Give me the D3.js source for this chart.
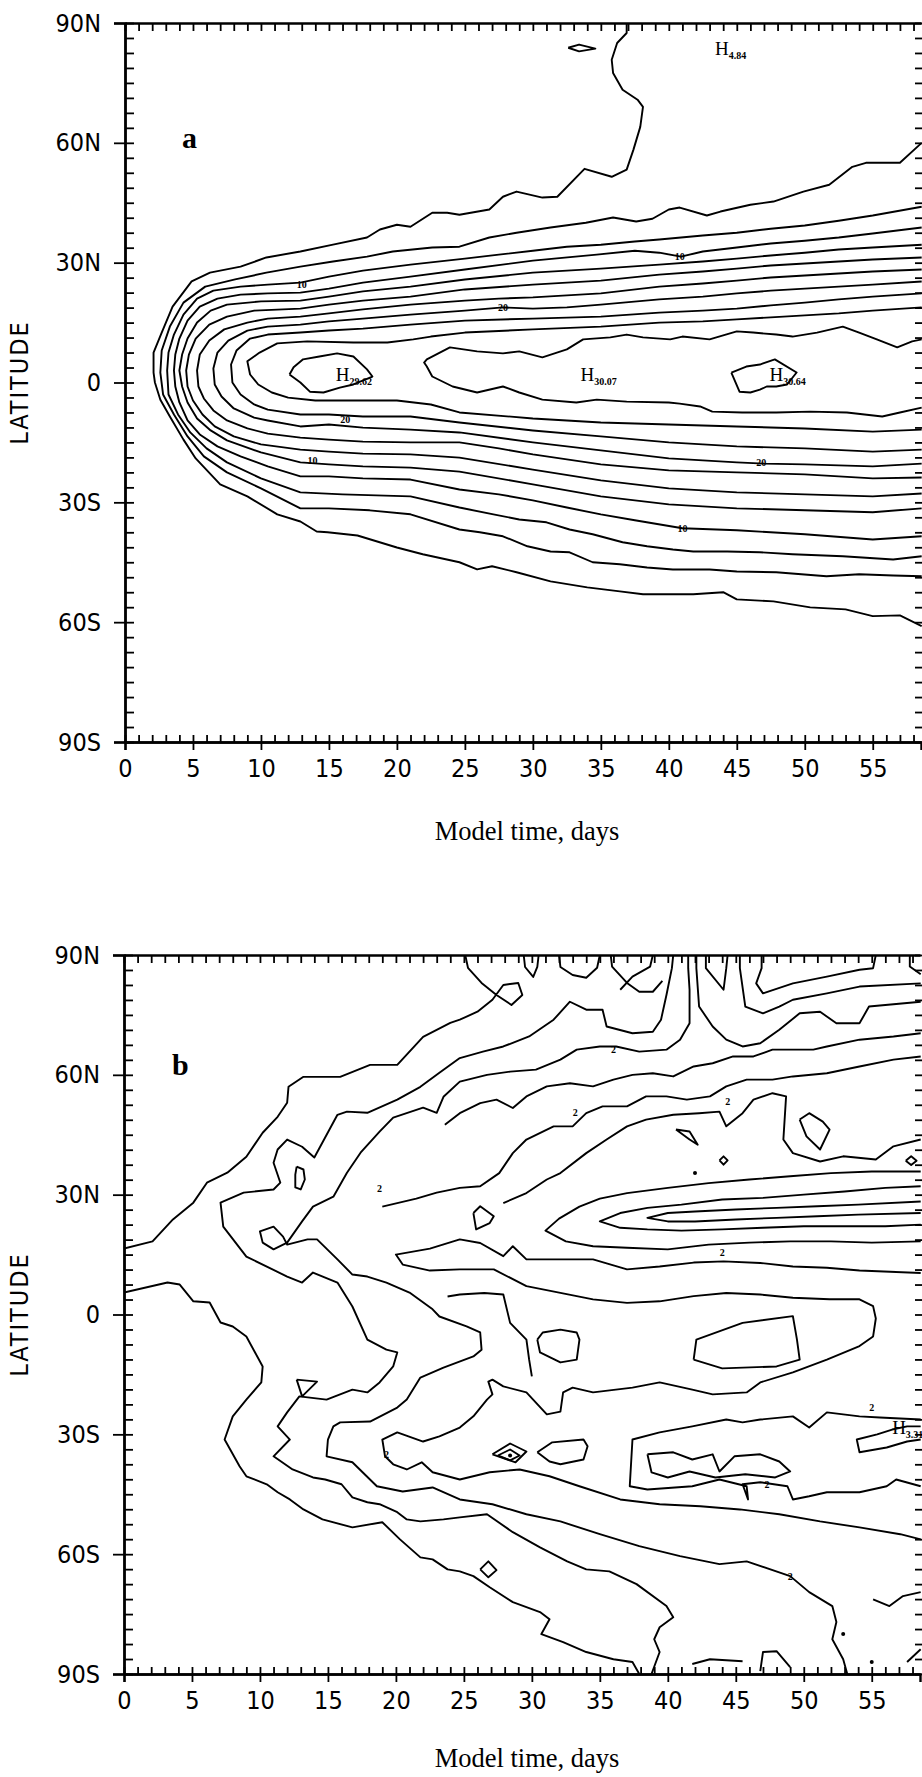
<!DOCTYPE html>
<html>
<head>
<meta charset="utf-8">
<script src="https://cdn.jsdelivr.net/npm/d3@7"></script>
<style>
  body { margin: 0; background: #fff; }
  svg text { fill: #000; }
</style>
</head>
<body>
<svg id="chart" width="922" height="1777"></svg>
<script>
// ---- axis ticks ----
const dayMajor = [0, 5, 10, 15, 20, 25, 30, 35, 40, 45, 50, 55];
const latMajor = [90, 60, 30, 0, -30, -60, -90];
const latLabels = ["90N", "60N", "30N", "0", "30S", "60S", "90S"];

// ---- panel a: contour lines as [day, lat] (north branch from nose outward, south branch from nose outward) ----
const a1N = [[2.1,2.5],[2.1,7.5],[2.7,12.5],[3.5,19],[4.9,25.3],[6.25,27.5],[8.5,29],[10.4,31.3],[12.9,32.8],[15.3,34.5],[17.8,36.3],[18.75,38.3],[20,39.5],[21,39],[22.6,42.5],[23.7,42.5],[24.6,42],[26.8,43.3],[27.8,46.5],[28.8,47.8],[30.7,46.3],[31.8,46.5],[33.8,53.5],[35.8,51.5],[36.9,53.3],[37.4,58.3],[37.9,64],[38.1,69],[37.7,70.8],[36.6,73.3],[35.9,77.5],[35.8,80.8],[36.2,85],[36.9,87.5],[36.9,90]];
const a1S = [[2.2,0],[2.6,-4.3],[3.3,-8.5],[4.3,-14.3],[5.2,-19],[7,-25.5],[9,-28.5],[11.2,-33],[12.9,-34.8],[14.1,-37.3],[14.9,-37.5],[17.1,-38.3],[20,-41.3],[21.9,-43],[24.6,-45],[25.9,-46.8],[27,-46],[28.8,-47.5],[31.3,-49.8],[34,-51.3],[36.4,-52.3],[38.1,-53],[41.8,-53],[44,-52.5],[45,-54.3],[47.7,-54.8],[50.4,-56.3],[53,-56.8],[55,-58.5],[57,-58.3],[58.6,-61]];
const a2N = [[2.6,2.5],[2.7,8],[3.3,14],[4.3,20],[5.9,24],[8.1,25.8],[10.4,27.5],[12.9,29],[15.3,30.3],[17.8,31.5],[19.7,32.8],[22.6,33.8],[24.6,34],[26.8,36.3],[28.8,37.5],[31.3,38.8],[33.9,40],[35.9,41.3],[37.6,40.3],[38.8,41],[40,43.3],[40.8,43.8],[42.8,41.8],[43.8,42.8],[46,44.5],[47.7,45.3],[49.9,47.8],[51.8,49.5],[53.5,54],[54.5,55],[57,55],[58.6,60]];
const a2S = [[2.8,-3],[3.6,-8],[4.6,-13.5],[5.8,-18.5],[7.5,-22.5],[10,-26.5],[12.9,-31.5],[15,-31.5],[18,-32],[21,-33],[24.6,-36.8],[26.1,-37.5],[27.8,-38.5],[29.6,-41],[31.3,-42.3],[32.7,-42.5],[34.4,-45],[36.4,-45.5],[38.4,-46.3],[40.3,-46.8],[43,-46.8],[45,-47.3],[47.9,-47.5],[51.6,-48.5],[54,-48],[56.5,-48.3],[58.6,-48.5]];
const a3N = [[3.1,3],[3.2,7.5],[3.6,12],[4.3,17],[5.3,21],[6.5,23],[8.5,24],[10.5,24.5],[12.9,25],[15,26.5],[17.5,28],[21,29.5],[25,31],[27.5,32],[30,33],[32.5,34],[35,34.5],[37.5,35.3],[39.3,35.8],[42.5,36.8],[45,37.5],[47.5,38.5],[50,39.3],[52.5,40.5],[55,41.8],[58.6,44]];
const a3S = [[3.2,-3],[3.9,-8],[4.8,-12.5],[6,-16.5],[7.5,-20],[10,-24],[12.9,-27.5],[16,-28],[21,-28.5],[24.6,-31.3],[27.1,-33],[29,-34.3],[31,-35],[32.7,-36.8],[34.4,-38],[36.6,-40],[38.4,-41],[40.3,-41.8],[41.8,-42.3],[44.3,-42.3],[46.7,-42.5],[49.1,-43],[52.8,-43.5],[56.5,-44.3],[58.6,-43.5]];
const a4N = [[3.6,3],[3.7,7],[4.0,11],[4.6,15.5],[5.5,19],[6.8,21],[8.5,22],[10.5,22.3],[12.9,22.5],[15,23.5],[17.5,25],[21,26.5],[25,28.3],[30,30.5],[34.7,32],[37.5,33],[39.3,32.5],[40.9,31.5],[42.5,32.8],[45,33.8],[47.5,34.8],[50,35.5],[52.5,36.3],[55,37.3],[58.6,38.8]];
const a4S = [[3.7,-1],[4.0,-5],[4.6,-9.5],[5.5,-13],[6.8,-16],[8.5,-18.5],[10.5,-21],[12.9,-23.5],[15,-23.5],[17.5,-24],[21,-24.3],[24.6,-26.8],[27.5,-28],[30,-29.5],[32.5,-31.3],[35,-33],[37.5,-34.5],[41,-36.5],[45,-37],[50,-38],[55,-39.3],[58.6,-38.5]];
const a5N = [[4.0,3],[4.2,7],[4.6,11],[5.3,15],[6.3,18],[7.5,19.5],[10,20.3],[12.9,20.5],[15,21.5],[17.5,22.8],[21,24],[25,25.8],[30,27.5],[35,28.5],[39.3,29.5],[42.5,30.3],[45,31],[47.5,31.8],[50,32.5],[52.5,33.3],[55,33.8],[58.6,34.5]];
const a5S = [[4.2,-1],[4.6,-5],[5.3,-9],[6.3,-12],[7.5,-14.5],[10,-17.5],[12.9,-20],[15,-20.5],[17.5,-21],[21,-21.3],[24.6,-22.3],[30,-25.5],[35,-28.5],[40,-30.5],[45,-31.5],[50,-32],[55,-32.5],[58.6,-31.5]];
const a6N = [[4.5,3],[4.7,7],[5.2,11],[6.2,14.5],[7.5,16.5],[9.5,18],[12.9,18.5],[15,19.5],[17.5,20.5],[21,21.5],[25,23.3],[30,24.5],[35,25.5],[39.3,27],[42.5,27.8],[45,28.5],[47.5,29.3],[50,29.8],[52.5,30.3],[55,30.8],[58.6,31.3]];
const a6S = [[4.6,-1],[5.0,-4.5],[5.7,-8],[6.6,-11],[8,-13.5],[10,-15.5],[12.9,-16.8],[15,-17.3],[17.5,-17.8],[21,-18],[24.6,-18.8],[30,-21.8],[35,-24.5],[40,-26.5],[45,-27.5],[50,-28],[55,-28.5],[58.6,-27.8]];
const a7N = [[5.3,3],[5.5,7],[6.2,10.5],[7.3,13.3],[9,15],[10.5,16],[12.9,16.5],[15,17.3],[17.5,18.3],[21,19.5],[25,20.5],[27.5,21],[30,21.3],[35,22.3],[39.3,24],[42.5,24.8],[45,25.5],[47.5,26.3],[50,26.8],[52.5,27.3],[55,27.8],[58.6,28.3]];
const a7S = [[5.4,-1],[5.8,-4],[6.5,-7],[7.5,-9.5],[9,-11.5],[10.5,-12.8],[12.9,-13.8],[15,-14.3],[17.5,-14.8],[21,-15],[24.6,-15],[27.5,-16.5],[30,-18],[35,-20.5],[40,-22],[45,-22.5],[50,-23],[55,-24],[58.6,-23.8]];
const a8N = [[6.5,3.5],[6.8,7.5],[7.6,10.5],[9,13],[10.5,14],[12.9,14.5],[15,15.3],[17.5,16],[21,17],[25,18],[27.8,18.8],[30,18.5],[32.5,18.8],[35,19.5],[39.3,20.8],[42.5,21.5],[45,22.3],[47.5,23],[50,23.5],[52.5,24],[55,24.5],[58.6,25.3]];
const a8S = [[6.6,-0.5],[7.1,-3.5],[8,-6.5],[9.5,-8.8],[10.5,-9.5],[12.9,-11],[15,-10.5],[17.5,-11.3],[21,-11.8],[24.6,-12.5],[30,-15],[35,-17],[40,-19],[45,-20],[47,-20.3],[50,-20.5],[55,-21],[58.6,-20.3]];
const a9N = [[7.8,4.5],[8.2,8],[9.2,11],[10.5,12],[12.9,12.5],[15,13],[17.5,13.5],[21,14.5],[25,15.5],[30,16],[35,16.5],[39.3,17.5],[42.5,18],[45,18.5],[47.5,19.3],[50,20],[52.5,20.8],[55,21.5],[58.6,22.3]];
const a9S = [[7.9,0],[8.5,-3],[9.5,-5.5],[10.5,-6.8],[12.9,-8],[15,-8],[17.5,-8.5],[21,-8.5],[24.6,-10],[30,-12],[35,-13.5],[40,-15],[45,-16],[50,-16.5],[55,-17.3],[58.6,-16.8]];
const a10N = [[9.0,5.3],[9.9,7.5],[11.2,9.8],[13.4,10.3],[16.8,10],[19.3,10],[21.2,10.8],[22.5,11.5],[25,12.5],[30,13.3],[35,14],[39.3,15],[42.5,15.3],[45,15.8],[47.5,16.3],[50,16.8],[52.5,17.3],[55,18],[58.6,18.8]];
const a10S = [[9.2,2],[9.8,-0.5],[10.8,-2.5],[12,-3.8],[14,-4.5],[17,-4.5],[20,-4.5],[22.5,-5.5],[24.6,-7.5],[30,-9],[35,-10],[40,-10.5],[45,-11],[50,-11.5],[55,-12.3],[58.6,-11.8]];
const aEN = [[22.0,5],[22.2,5.8],[23.9,8.8],[25.9,7.8],[27.8,7.3],[29,7.8],[30.7,6.3],[32.5,8.3],[33.7,10.8],[35.7,11.3],[36.9,12],[38.1,11.3],[40.1,10.8],[41,11.5],[43,10.8],[45,12.8],[46.2,12.5],[47.9,12],[49.1,11.5],[50.9,12.5],[52.8,14],[54,12.5],[55.3,10.8],[56.8,8.8],[57.9,10.3],[58.6,10.8]];
const aES = [[22.2,4],[22.6,1.5],[24.1,-1],[25.9,-2.5],[27.8,-1],[29,-2.5],[30.7,-4.3],[33.2,-5],[34.7,-4.3],[36.9,-4.8],[40,-5],[40.8,-5.3],[42.3,-6],[43.2,-7.3],[45.4,-7.5],[47.9,-7.5],[50.4,-7.3],[53.1,-7.5],[55.7,-8.5],[57,-7.5],[58.6,-6.3]];
const aIsle1 = [[12.1,2],[12.4,3.8],[13.1,5.8],[14.3,6.5],[15.6,7.3],[16.8,6.5],[17.8,3.3],[18.2,1.5],[16.8,-0.5],[15.8,-1.3],[14.6,-2.5],[13.6,-2.3],[12.9,0],[12.1,2]];
const aIsle2 = [[44.6,2.5],[45.7,4],[46.7,4.5],[47.8,5.8],[49.4,2.5],[48.7,-0.5],[47.9,-1],[47.2,-1],[46.7,-1.8],[46,-2.5],[45.2,-2.3],[44.6,2.5]];
const aPoleLoop = [[32.6,83.8],[33.4,84.6],[34.6,83.6],[33.4,82.9],[32.6,83.8]];

// contour value labels and highs, panel a
const aLabelText = ["10", "20", "10", "20", "10", "20", "10"];
const aLabelPos = [[13.0,24.5],[27.8,18.8],[40.8,31.5],[16.2,-9.3],[13.8,-19.5],[46.8,-20],[41,-36.5]];
const aHighVal = ["29.62", "30.07", "30.64", "4.84"];
const aHighPos = [[15.5,0.3],[33.5,0.3],[47.4,0.3],[43.4,82]];

// ---- panel b: contour lines as [day, lat] ----
const b1 = [[0,16.5],[2.1,18.3],[3.6,23.8],[5.1,28],[6.1,33],[7.6,35.5],[9.0,39.5],[10.2,45.5],[11.3,49.5],[12.0,53],[12.1,57],[13.2,59.5],[15.9,59.5],[18.1,62.5],[20.1,62.5],[22.0,69.5],[24.0,73],[24.7,73.8],[26.0,75.8],[27.1,78.8],[27.9,82.5],[29.0,83],[29.3,80],[28.5,77.5],[27.4,80],[26.3,83],[25.3,86.8],[25.1,90]];
const b2 = [[0,5.5],[3.2,8],[4.1,7.5],[5.1,3.3],[6.3,3],[7.1,-2],[8,-3],[9,-5.5],[10.2,-13],[10.1,-17],[9,-21.3],[8,-25.5],[7.4,-31.3],[8.5,-38],[9,-40.5],[10.5,-42.5],[11.3,-44.5],[12.2,-46.3],[13.2,-48.8],[14.6,-51.3],[16.8,-53.3],[19,-52],[20.3,-56.3],[21.8,-60.8],[22.7,-61.3],[23.8,-63.8],[24.7,-64.3],[25.7,-65.5],[26.9,-68.3],[28.6,-72],[30.6,-74.5],[31.3,-76.3],[30.7,-80],[32.3,-82],[34,-84.5],[36,-86.3],[37.4,-87],[37.9,-90]];
const b3 = [[40.4,90],[40.3,86.7],[39.9,80],[39.5,73.8],[38.9,70.8],[37.4,70.4],[35.5,72.1],[35.2,76.3],[34,76.3],[32.8,78.3],[31.6,73.8],[29.8,69.6],[27.9,67.1],[26.4,65.8],[24.7,64.2],[23.2,60.5],[21.8,57],[20.1,53.8],[17.9,50.5],[16.4,50.8],[15.7,50],[14,39.3],[13.1,42],[12,43.8],[11.3,41.3],[11,38],[11.5,33],[11,31.3],[8.8,30.5],[7.1,28],[7.3,22],[9,14.5],[12,9.5],[13.1,8],[13.9,10.5],[15.7,8],[16.8,2],[17.9,-6.3],[19.3,-8.8],[20.1,-9.5],[19.8,-13],[18.8,-17],[17.9,-19.5],[16.8,-18.8],[14.9,-21.3],[12.9,-20.5],[12,-24.5],[11.3,-28],[12.2,-31.3],[11,-35.5],[12.4,-38.8],[13.9,-40.8],[14.8,-41.3],[16,-42.5],[16.8,-45.8],[17.9,-47],[18.8,-47.5],[20.1,-49.5],[20.8,-51.3],[21.8,-51.8],[23.5,-51.3],[24.7,-50.8],[26.7,-50],[28.6,-54.5],[30.6,-58.3],[32.6,-61.8],[34,-63.8],[35.7,-64.3],[37.7,-67.5],[39.9,-73],[40.4,-75.8],[39.4,-78.3],[39,-81.3],[39.4,-84.5],[38.8,-90]];
const b4 = [[41.5,90],[41.5,86.7],[41.6,81.3],[41.6,72.9],[40.9,68.8],[39.9,66.3],[37.9,65.8],[36.2,67.1],[35,67.1],[33.3,66.3],[32.1,63.8],[30.3,61.3],[28.4,60.8],[26.7,60],[24.7,58.3],[23.5,54.5],[23,50.5],[22,51.8],[19.8,49.3],[18.8,45.8],[17.4,40.5],[16.4,35.5],[15.4,29.5],[13.9,27],[13.1,23.3],[12,18],[11,16.3],[10.2,18],[10,20.8],[11,22],[11.7,19.5],[12,17.5],[13.5,18.8],[14.2,18.8],[15.7,13.8],[16.8,10],[17.9,9.5],[19.3,8],[21,5.5],[22.7,1.3],[23.2,-0.5],[25.2,-3],[26.2,-4.5],[26.3,-8.8],[25.7,-10.5],[23.5,-13.3],[21.8,-15.8],[20.8,-21.3],[20.1,-23.3],[18.1,-26.8],[15.9,-27],[15.4,-28],[15,-31.3],[14.9,-35.5],[16.8,-37],[18.6,-43],[20.5,-44.3],[22.7,-43.3],[24.7,-46.3],[27.1,-47.5],[29.6,-50],[32.1,-51.8],[35,-55],[37.9,-58],[40.9,-60.5],[43.8,-62.5],[45.8,-61.8],[49,-65.5],[50.4,-69.5],[52.1,-73],[52.4,-77],[52.1,-81.3],[52.9,-86.3],[53.2,-90]];
const b5 = [[58.6,-56.3],[57.1,-55],[54.1,-53.3],[51.2,-51.8],[48.2,-50],[45.3,-48.8],[42.4,-48],[39.4,-47.5],[36.5,-46.3],[33.5,-43],[31.3,-40.5],[29.1,-38.8],[26.9,-39.5],[24.7,-41.3],[22.7,-39.5],[21.9,-37],[20.8,-38.8],[19.8,-37.5],[19.2,-35.5],[19,-31.3],[20.1,-29.5],[22,-31.8],[23.2,-30.5],[24.7,-28.3],[25.7,-25.5],[26.7,-21.3],[27.1,-20],[26.8,-16.8],[27.1,-16.3],[27.9,-18],[29.6,-19.5],[31.1,-25],[32.1,-24.3],[32.3,-19.5],[33,-18.3],[34.5,-19.5],[37.4,-18.3],[39.4,-17],[41.8,-18.8],[43.3,-20],[45.8,-19.5],[46.8,-17],[49.2,-14.5],[51.7,-11.3],[54.1,-7.9],[55.1,-5.5],[55.3,-1],[55.1,2.1],[54.1,3.8],[51.9,3.8],[49.2,4.2],[46.8,5],[44.3,5.4],[41.9,4.6],[39.4,3.3],[37,2.9],[34.5,3.8],[32.1,5.4],[29.6,7.1],[27.2,11.3],[24.7,11.3],[22.5,11],[20.5,12.5],[20,15],[22.5,16.5],[24.7,18.8],[26.2,17.9],[27.9,14.6],[28.6,17.1],[29.6,13.8],[32.1,13.8],[34.5,13.8],[37,11.3],[39.4,12],[41.9,13],[44.1,13.3],[46.8,12.9],[49.2,12],[51.7,11.7],[54.1,11],[58.6,10.4]];
const b6 = [[58.6,-26.3],[55.6,-25.8],[54.1,-25.5],[51.7,-24.5],[50.4,-28.3],[49.2,-25.5],[46.8,-26.3],[45.5,-27],[44.3,-26.3],[41.8,-28],[39.4,-29.5],[37.4,-31.3],[37.2,-43],[38.5,-43.8],[41.8,-43],[43.8,-41.3],[45.8,-43],[45.9,-46.3],[45.5,-42.5],[46.8,-42],[48.8,-43],[49.2,-46.3],[50.4,-45.5],[51.7,-44.5],[54.1,-44.5],[56.1,-43],[56.8,-41.3],[58.6,-43]];
const b7 = [[38.5,-35],[40.4,-34.5],[41.8,-36.3],[43.3,-35],[43.8,-39.3],[44.9,-35.5],[46.8,-35],[48.2,-36.8],[49,-39.3],[47.9,-40.8],[45.7,-40],[43.5,-40.8],[41.6,-39.3],[40,-40.8],[38.8,-39.5],[38.5,-35]];
const b8 = [[30.4,-34.5],[31.5,-32],[33.8,-31.3],[34.1,-33],[33.8,-36.3],[32.1,-37.5],[31.3,-36.8],[30.4,-34.5]];
const b9 = [[27.1,-35],[28.4,-32.3],[29.6,-34.3],[28.8,-37],[27.1,-35]];
const b10 = [[27.5,-35.3],[28.4,-33.8],[29.1,-35.3],[28.4,-36.5],[27.5,-35.3]];
const b11 = [[58.6,-28],[57.6,-28],[56.5,-28.8],[55.4,-30],[53.9,-31.3],[54.1,-34.5],[56.1,-33.3],[57.6,-31.8],[58.6,-31.3]];
const b12 = [[12.7,37],[13.2,36.3],[13.3,33.8],[13,31.3],[12.6,31.8],[12.6,35],[12.7,37]];
const b13 = [[12.7,-16.3],[14.2,-16.8],[13.1,-20.5],[12.7,-16.3]];
const b14 = [[26.2,-63.8],[26.8,-61.8],[27.4,-64],[26.8,-65.8],[26.2,-63.8]];
const b15 = [[41.9,-11.3],[42.1,-6.3],[45.5,-2.1],[49.2,-0.4],[49.5,-6.3],[49.7,-11.3],[48,-13],[44,-13.5],[41.9,-11.3]];
const b16 = [[23.6,47.5],[24.7,50.4],[26.2,52.9],[27.4,53.8],[28.6,51.7],[29.6,54.6],[31.1,57.1],[32.8,57.9],[34.5,57.1],[36,58.8],[37.4,60],[38.9,60.4],[40.4,59.6],[41.9,62.1],[43.3,62.9],[44.8,64.6],[46.3,64.6],[47.7,66.3],[49.2,66.3],[50.7,66.3],[51.7,67.1],[54.1,68.8],[56.6,69.6],[58.6,70.4]];
const b17 = [[19,27],[21.5,29],[23,30.5],[24.7,31.7],[26.2,32.1],[27.6,35.4],[28.6,40.4],[29.6,43.8],[31.6,47.1],[33,47.1],[34,50.4],[35.2,52.1],[37,52.1],[38.4,54.6],[39.9,54.6],[41.4,53.8],[43.1,54.6],[44.3,57.1],[45.8,58.8],[47.7,58.8],[49.2,59.6],[51.7,60.4],[54.1,62.1],[56.6,63.8],[58.6,64.6]];
const b18 = [[27.9,27.9],[29.6,30.4],[31.1,33.8],[32.1,35.4],[34,40.4],[35.5,43.8],[37,47.1],[38.4,48.8],[40.4,50],[42.3,50.4],[43.8,50.8],[44.3,47.1],[45.5,50.4],[46.3,53.8],[47.7,55.4],[48.7,54.6],[48.5,43.8],[49.2,40.4],[51.2,38.3],[52.9,39.6],[55.3,38.8],[56.6,42.1],[58.6,43.8]];
const b19 = [[58.6,35.8],[55,35.8],[52,35.4],[49,34.6],[46,33.8],[43,32.9],[40,31.7],[37,30.4],[35,29],[33.5,27],[32,24],[31,21],[32.5,18.3],[34.5,17.1],[37,16.7],[40,16.3],[43,17.5],[46,18],[49,18.3],[52,18.3],[55,18],[58.6,18.3]];
const b20 = [[58.6,32.1],[56,31.7],[53,30.8],[50,30],[47,29.2],[44,28.8],[41,27.5],[38.5,26.7],[36.5,25.4],[35,23.3],[36.5,21.7],[38.5,21.3],[41,21],[44,21.3],[47,21.7],[50,22.1],[53,22.1],[56,22.1],[58.6,22.5]];
const b21 = [[58.6,28.3],[54,27.5],[51,27.1],[48,26.7],[45,26.3],[42,25.8],[40,25.4],[38.5,24.2],[40,23.3],[42,23.3],[45,23.8],[48,24.2],[51,24.6],[54,25],[58.6,25.4]];
const b22 = [[55.1,-71.3],[56.3,-73],[57.3,-70.5],[58.6,-69.5]];
const b23 = [[57.6,-87],[58.6,-83.8]];
const b24 = [[41.8,-87.5],[43.1,-86.3],[45.5,-86.8]];
const b25 = [[46.8,-89.3],[47,-84.5],[48,-84.3],[49,-88.3]];
const b26 = [[42.8,90],[42.8,86.7],[44.1,81.3],[44.3,86.7],[44.4,90]];
const b27 = [[42.1,90],[42.1,86.7],[42.3,77.1],[43.3,72.1],[44.3,68.8],[45.5,67.1],[46.8,67.9],[48.2,71.3],[49.7,75.4],[51.2,75.8],[52.4,72.9],[54.1,72.9],[54.8,77.1],[58.6,78.3]];
const b28 = [[46.9,90],[46.9,86.7],[46.5,82.9],[47,80.4],[49.2,82.9],[51.7,84.6],[54.1,86.3],[55.1,86.7],[55.3,90]];
const b29 = [[45.3,90],[45.3,86.7],[45.7,77.1],[47,75.4],[48.2,77.1],[49.2,78.8],[51.7,80.4],[54.1,82.1],[58.6,82.9]];
const b30 = [[57.8,90],[57.8,87.1],[58.6,85.2]];
const b31 = [[40.6,46.3],[41.6,45.8],[42.2,42.5],[41.6,43.8],[40.6,46.3]];
const b32 = [[43.8,38.6],[44.1,39.6],[44.4,38.6],[44.1,37.5],[43.8,38.6]];
const b33 = [[49.7,48.8],[50.4,50.4],[51.4,48.3],[51.9,46.3],[51.2,41.3],[50.2,44.6],[49.7,48.8]];
const b34 = [[57.5,38.5],[57.9,39.6],[58.3,38.5],[57.9,37.4],[57.5,38.5]];
const b35 = [[25.7,25.4],[26.2,27.1],[27.2,24.6],[26.9,22.9],[25.9,21.3],[25.7,25.4]];
const b36 = [[23.8,4.5],[24.7,5],[26.5,5.4],[27.9,5],[28.4,-2.1],[29.6,-6.3],[29.8,-11.3],[30,-15.5]];
const b37 = [[30.4,-6.3],[30.8,-4.5],[32.1,-3.8],[33.3,-4.5],[33.5,-6.3],[33.3,-11.3],[32.1,-12],[30.6,-9.5],[30.4,-6.3]];
const b38 = [[29.4,90],[29.5,87],[30.1,84.5],[30.4,87],[30.5,90]];
const b39 = [[32,90],[32.1,87],[33,85],[34,84.3],[34.8,86.8],[35,90]];
const b40 = [[35.8,90],[35.9,87.1],[37,83],[37.9,80.8],[38.9,80.8],[39.6,83.5]];
const b41 = [[36.5,81.3],[37.4,84.6],[38.7,87.1],[38.9,90]];
const bDots = [[28.4,-35.3],[52.9,-80],[55,-87],[42,35.4]];
const bLabelPos = [[18.8,31.5],[36,66.3],[33.2,50.5],[44.4,53.3],[44,15.5],[19.3,-35],[49,-65.5],[55,-23.3],[47.3,-42.5]];
const bHighVal = ["3.31"];
const bHighPos = [[56.5,-30]];

// ---- layout ----
const panels = [
  { id: "a", left: 125, right: 921, top: 23, bottom: 742, letterPos: [182, 148], titleY: 840,
    open: [[a1N,a1S],[a2N,a2S],[a3N,a3S],[a4N,a4S],[a5N,a5S],[a6N,a6S],[a7N,a7S],[a8N,a8S],[a9N,a9S],[a10N,a10S],[aEN,aES]],
    lines: [aIsle1, aIsle2, aPoleLoop], dots: [],
    labels: aLabelPos.map((p, i) => ({ p, t: aLabelText[i] })),
    highs: aHighPos.map((p, i) => ({ p, t: aHighVal[i] })) },
  { id: "b", left: 124, right: 920, top: 955, bottom: 1674, letterPos: [172, 1075], titleY: 1767,
    open: [],
    lines: [b1,b2,b3,b4,b5,b6,b7,b8,b9,b10,b11,b12,b13,b14,b15,b16,b17,b18,b19,b20,b21,b22,b23,b24,b25,
            b26,b27,b28,b29,b30,b31,b32,b33,b34,b35,b36,b37,b38,b39,b40,b41],
    dots: bDots,
    labels: bLabelPos.map(p => ({ p, t: "2" })),
    highs: bHighPos.map((p, i) => ({ p, t: bHighVal[i] })) }
];

const svg = d3.select("#chart");
svg.append("rect").attr("width", 922).attr("height", 1777).attr("fill", "#fff");

const tickFont = "'DejaVu Sans Condensed', 'DejaVu Sans', sans-serif";
const serif = "'Liberation Serif', 'Times New Roman', serif";

panels.forEach(cfg => {
  const x = d3.scaleLinear().domain([0, 58.55]).range([cfg.left, cfg.right]);
  const y = d3.scaleLinear().domain([-90, 90]).range([cfg.bottom, cfg.top]);
  const g = svg.append("g");

  const clipId = "clip-" + cfg.id;
  svg.append("clipPath").attr("id", clipId).append("rect")
    .attr("x", cfg.left).attr("y", cfg.top)
    .attr("width", 922 - cfg.left).attr("height", cfg.bottom - cfg.top);

  const line = d3.line().x(d => x(d[0])).y(d => y(d[1]));
  const plot = g.append("g").attr("clip-path", `url(#${clipId})`)
    .attr("fill", "none").attr("stroke", "#000")
    .attr("stroke-width", 1.9).attr("stroke-linejoin", "round");

  // open contours: north branch reversed, then south branch
  cfg.open.forEach(([n, s]) => {
    plot.append("path").attr("d", line(n.slice().reverse().concat(s)));
  });
  cfg.lines.forEach(l => plot.append("path").attr("d", line(l)));
  cfg.dots.forEach(d => plot.append("circle")
    .attr("cx", x(d[0])).attr("cy", y(d[1])).attr("r", 2).attr("fill", "#000").attr("stroke", "none"));

  // contour value labels
  g.selectAll(null).data(cfg.labels).join("text")
    .attr("x", d => x(d.p[0])).attr("y", d => y(d.p[1]))
    .attr("dy", "0.35em").attr("text-anchor", "middle")
    .attr("font-family", serif).attr("font-weight", "bold").attr("font-size", 10)
    .text(d => d.t);

  // highs
  const hi = g.selectAll(null).data(cfg.highs).join("text")
    .attr("x", d => x(d.p[0])).attr("y", d => y(d.p[1]))
    .attr("font-family", serif).attr("font-size", 19);
  hi.append("tspan").text("H");
  hi.append("tspan").attr("dy", 4).attr("font-size", 10).attr("font-weight", "bold").text(d => d.t);

  // ---- axes ----
  const axisStyle = sel => {
    sel.selectAll("path.domain").attr("stroke", "#000").attr("stroke-width", 2.4);
    sel.selectAll(".tick line").attr("stroke", "#000").attr("stroke-width", 1.8);
    sel.selectAll(".tick text").attr("font-family", tickFont).attr("font-size", 25)
      .attr("font-stretch", "condensed").attr("fill", "#000");
  };
  const days = d3.range(0, 59);
  const latMinor = d3.range(-90, 90.01, 3.75);

  // bottom: minor inward, major outward+inward with labels
  g.append("g").attr("transform", `translate(0,${cfg.bottom})`)
    .call(d3.axisBottom(x).tickValues(days).tickSizeInner(-7).tickSizeOuter(0).tickFormat(""))
    .call(axisStyle);
  g.append("g").attr("transform", `translate(0,${cfg.bottom})`)
    .call(d3.axisBottom(x).tickValues(dayMajor).tickSize(8).tickPadding(9).tickFormat(d3.format("d")))
    .call(axisStyle);
  // top
  g.append("g").attr("transform", `translate(0,${cfg.top})`)
    .call(d3.axisTop(x).tickValues(days).tickSizeInner(-8).tickSizeOuter(0).tickFormat(""))
    .call(axisStyle);
  // left: minor inward, major outward with labels
  g.append("g").attr("transform", `translate(${cfg.left},0)`)
    .call(d3.axisLeft(y).tickValues(latMinor).tickSizeInner(-9).tickSizeOuter(0).tickFormat(""))
    .call(axisStyle);
  g.append("g").attr("transform", `translate(${cfg.left},0)`)
    .call(d3.axisLeft(y).tickValues(latMajor).tickSize(11).tickPadding(13)
      .tickFormat(d => latLabels[latMajor.indexOf(d)]))
    .call(axisStyle);
  // right edge: frame is cut off, only inward ticks show
  const rightAxis = g.append("g").attr("transform", "translate(922,0)")
    .call(d3.axisRight(y).tickValues(latMinor).tickSizeInner(-7).tickSizeOuter(0).tickFormat(""))
    .call(axisStyle);
  rightAxis.select("path.domain").remove();

  // panel letter
  g.append("text").attr("x", cfg.letterPos[0]).attr("y", cfg.letterPos[1])
    .attr("font-family", serif).attr("font-weight", "bold").attr("font-size", 30)
    .text(cfg.id);

  // y title
  g.append("text")
    .attr("transform", `translate(28,${y(0)}) rotate(-90)`)
    .attr("text-anchor", "middle")
    .attr("font-family", tickFont).attr("font-stretch", "condensed").attr("font-size", 25)
    .attr("letter-spacing", 2)
    .text("LATITUDE");

  // x title
  g.append("text").attr("x", 527).attr("y", cfg.titleY).attr("text-anchor", "middle")
    .attr("font-family", serif).attr("font-size", 26.5)
    .text("Model time, days");
});
</script>
</body>
</html>
